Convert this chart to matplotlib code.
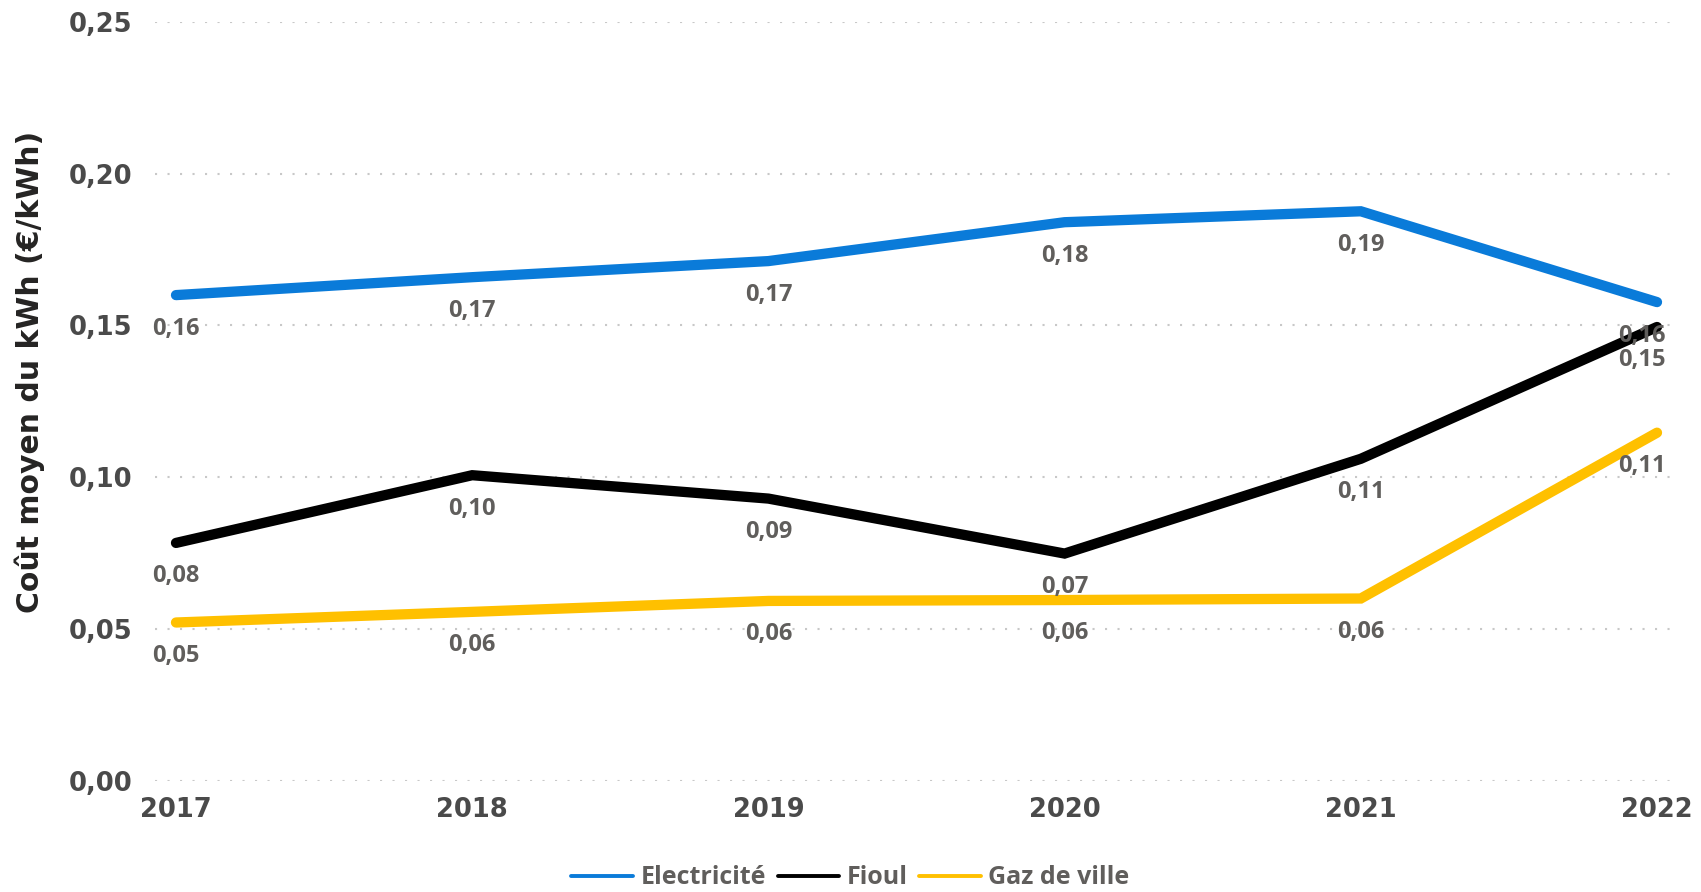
import matplotlib
matplotlib.use("Agg")
import matplotlib.pyplot as plt
from matplotlib.ticker import FuncFormatter

# coût moyen du kWh par énergie
annees = [2017, 2018, 2019, 2020, 2021, 2022]
electricite = [0.160, 0.1659, 0.1712, 0.1840, 0.1876, 0.1577]
fioul = [0.0784, 0.1007, 0.0930, 0.0749, 0.1061, 0.1495]
gaz = [0.0522, 0.0557, 0.0593, 0.0596, 0.0601, 0.1147]

series = [
    ("Electricité", electricite, "#0A7BD9"),
    ("Fioul", fioul, "#000000"),
    ("Gaz de ville", gaz, "#FFC000"),
]

lbl_font = "Open Sans"
lbl_col = "#605E5C"

def virgule(v, pos=None):
    return ("%.2f" % v).replace(".", ",")

fig = plt.figure(figsize=(17.01, 8.92), dpi=100)
ax = fig.add_axes([0.0911, 0.1244, 0.8907, 0.8512])

for nom, vals, col in series:
    ax.plot(annees, vals, color=col, lw=7.4, solid_capstyle="round",
            solid_joinstyle="miter", clip_on=False, label=nom)
    for i, (x, y) in enumerate(zip(annees, vals)):
        dx = -11 if i == len(annees) - 1 else 0
        ax.annotate(virgule(y), (x, y), xytext=(dx, -28.4), textcoords="offset points",
                    ha="center", va="baseline", fontsize=17, fontfamily=lbl_font,
                    fontweight="bold", color=lbl_col, zorder=5)

ax.set_xlim(2016.929, 2022.044)
ax.set_ylim(0, 0.25)
ax.set_xticks(annees)
ax.set_yticks([0, 0.05, 0.10, 0.15, 0.20, 0.25])
ax.yaxis.set_major_formatter(FuncFormatter(virgule))
ax.grid(axis="y", color="#C8C8C8", lw=1.5, linestyle=(0, (1, 5)))
ax.set_axisbelow(True)
for s in ax.spines.values():
    s.set_visible(False)
ax.tick_params(axis="both", length=0, colors="#4A4A4A")
ax.tick_params(axis="y", pad=16)
ax.tick_params(axis="x", pad=11.5)
for t in ax.get_xticklabels() + ax.get_yticklabels():
    t.set_fontfamily("DejaVu Sans")
    t.set_fontweight("bold")
    t.set_fontsize(18.5)

fig.text(30 / 1701, 0.583, "Coût moyen du kWh (€/kWh)", rotation=90, ha="center",
         va="center", fontsize=21.5, fontweight="bold", color="#252423",
         fontfamily="DejaVu Sans")

leg = fig.legend(*ax.get_legend_handles_labels(), loc="center", bbox_to_anchor=(0.5, 0.0157),
                 ncol=3, frameon=False, handlelength=2.45, handletextpad=0.31,
                 columnspacing=0.47, prop={"family": lbl_font, "weight": "bold", "size": 18})
for h in leg.get_lines():
    h.set_linewidth(2.8)
for t in leg.get_texts():
    t.set_color(lbl_col)

fig.savefig("out.png", dpi=100)
